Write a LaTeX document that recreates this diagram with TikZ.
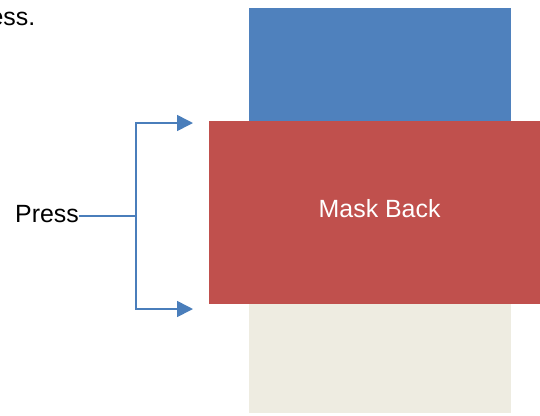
\documentclass[tikz,border=0pt]{standalone}
\usepackage{fontspec}
\setmainfont{Liberation Sans}
\usetikzlibrary{arrows.meta}
\definecolor{maskblue}{HTML}{4F81BD}
\definecolor{maskred}{HTML}{C0504D}
\definecolor{maskbeige}{HTML}{EEECE1}
\definecolor{linkblue}{HTML}{4A7EBB}
\tikzset{layer/.style={draw=none,inner sep=0pt,anchor=north west},
  lbl/.style={font=\fontsize{25}{30}\selectfont,inner sep=0pt,anchor=base west}}
\begin{document}
\begin{tikzpicture}[x=1bp,y=-1bp]
      \useasboundingbox (0,0) rectangle (540,415);
      \node[layer,fill=maskblue,minimum width=262bp,minimum height=114bp] (front) at (249,8) {};
      \node[layer,fill=maskbeige,minimum width=262bp,minimum height=110bp] (base) at (249,303) {};
      \node[layer,fill=maskred,minimum width=331bp,minimum height=183bp] (back) at (209,121) {};
      \node[lbl,text=white] (backlabel) at (318.5,217) {Mask Back};
      \node[lbl] (press) at (15,222.5) {Press}; \node[lbl,anchor=base east] (note) at (35.5,25) {ess.};
      \coordinate (split) at (136,216); \coordinate (up) at (193,123); \coordinate (down) at (193,309);
      \draw[linkblue,line width=2.5bp] (press.east |- split) -- (split);
      \draw[linkblue,line width=1.6bp,-{Triangle[length=16bp,width=16bp]}] (split) |- (up);
      \draw[linkblue,line width=1.6bp,-{Triangle[length=16bp,width=16bp]}] (split) |- (down);
    \end{tikzpicture}
\end{document}
